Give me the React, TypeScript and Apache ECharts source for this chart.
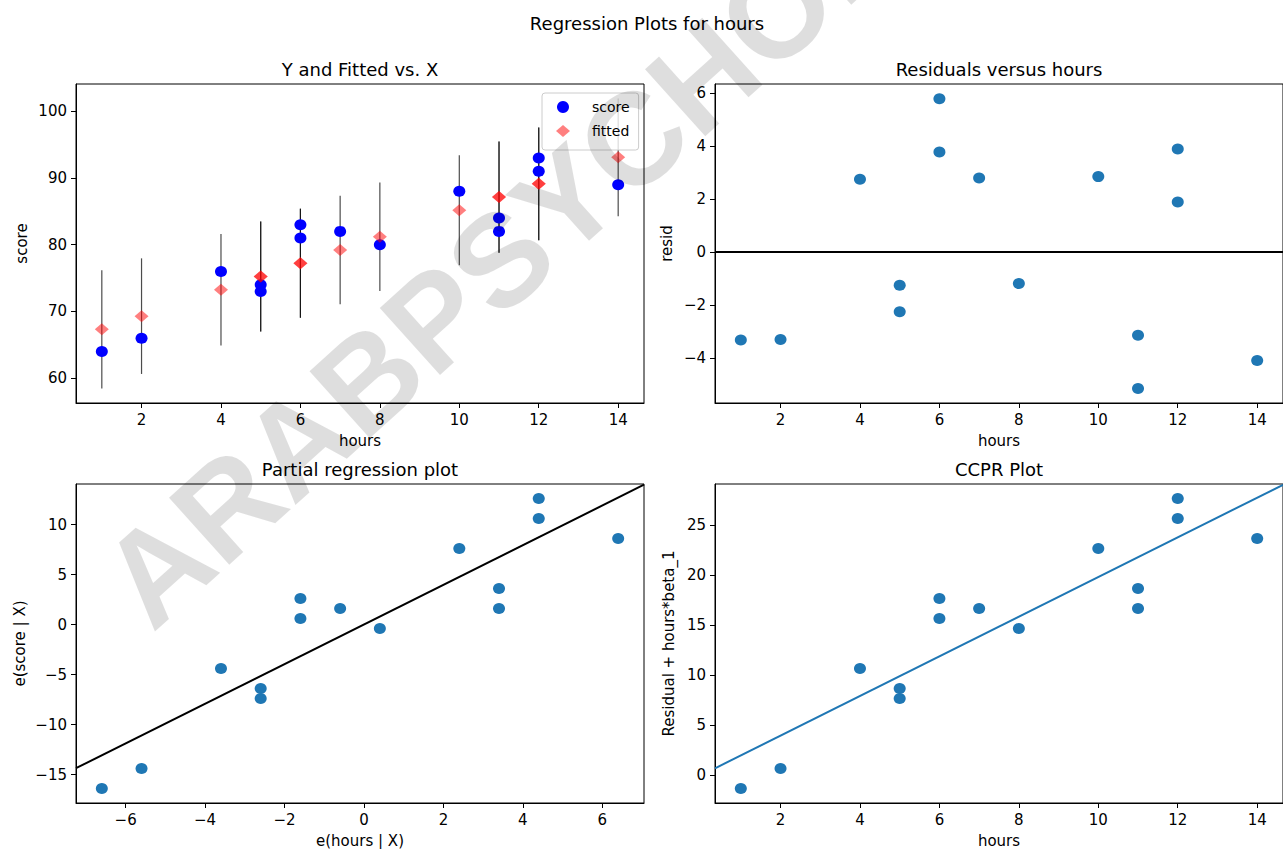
import React, { useEffect, useRef } from "react";
import * as echarts from "echarts";

// ---------------- data ----------------
const hours = [1, 2, 4, 5, 5, 6, 6, 7, 8, 10, 11, 11, 12, 12, 14];
const score = [64, 66, 76, 73, 74, 81, 83, 82, 80, 88, 84, 82, 91, 93, 89];
const fitted = [67.32, 69.3, 73.26, 75.25, 75.25, 77.23, 77.23, 79.21, 81.19, 85.16, 87.14, 87.14, 89.12, 89.12, 93.09];
const predLower = [58.46, 60.64, 64.91, 67.0, 67.0, 69.06, 69.06, 71.08, 73.06, 76.93, 78.81, 78.81, 80.66, 80.66, 84.27];
const predUpper = [76.18, 77.96, 81.61, 83.49, 83.49, 85.4, 85.4, 87.34, 89.32, 93.39, 95.47, 95.47, 97.58, 97.58, 101.91];
const resid = [-3.32, -3.3, 2.74, -2.25, -1.25, 3.77, 5.77, 2.79, -1.19, 2.84, -3.14, -5.14, 1.88, 3.88, -4.09];
const partialX = [-6.6, -5.6, -3.6, -2.6, -2.6, -1.6, -1.6, -0.6, 0.4, 2.4, 3.4, 3.4, 4.4, 4.4, 6.4];
const partialY = [-16.4, -14.4, -4.4, -7.4, -6.4, 0.6, 2.6, 1.6, -0.4, 7.6, 3.6, 1.6, 10.6, 12.6, 8.6];
const ccprY = [-1.33, 0.67, 10.67, 7.67, 8.67, 15.67, 17.67, 16.67, 14.67, 22.67, 18.67, 16.67, 25.67, 27.67, 23.67];

// fitted reference lines (end points at the axis limits)
const partialLineX = [-7.25, 7.05];
const partialLineY = [-14.37, 13.98];
const ccprLineX = [0.35, 14.65];
const ccprLineY = [0.69, 29.04];
const residLineX = [0.35, 14.65];
const residLineY = [0, 0];

// axis ranges
const hoursRange = [0.35, 14.65];
const fitRange = [56.29, 104.08];
const residRange = [-5.69, 6.33];
const partialXRange = [-7.25, 7.05];
const partialYRange = [-17.85, 14.05];
const ccprRange = [-2.78, 29.12];

// tick labels
const hoursTicks = [2, 4, 6, 8, 10, 12, 14];
const fitTicks = [60, 70, 80, 90, 100];
const residTicks = [-4, -2, 0, 2, 4, 6];
const partialXTicks = [-6, -4, -2, 0, 2, 4, 6];
const partialYTicks = [-15, -10, -5, 0, 5, 10];
const ccprTicks = [0, 5, 10, 15, 20, 25];

const FONT = "'DejaVu Sans', 'Noto Sans', sans-serif";
const BLUE = "#1f77b4";
const DOT = [12, 11];

const fmt = (v: number) => (v < 0 ? "\u2212" + Math.abs(v) : String(v));

function mkAxis(gridIndex: number, range: number[], ticks: number[], name: string, nameGap: number) {
  return {
    type: "value",
    gridIndex,
    min: range[0],
    max: range[1],
    name,
    nameLocation: "middle",
    nameGap,
    nameTextStyle: { fontFamily: FONT, fontSize: 15, color: "#000" },
    axisLine: { show: true, onZero: false, lineStyle: { color: "#000", width: 1 } },
    axisTick: { show: true, length: 5, customValues: ticks, lineStyle: { color: "#000", width: 1 } },
    axisLabel: { customValues: ticks, formatter: fmt, fontFamily: FONT, fontSize: 15, color: "#000", margin: 9 },
    splitLine: { show: false },
  };
}

const zip = (a: number[], b: number[]) => a.map((v, i) => [v, b[i]]);

function titleText(x: number, y: number, text: string, size: number) {
  return {
    type: "text",
    x,
    y,
    silent: true,
    style: { text, fontFamily: FONT, fontSize: size, fill: "#000", textAlign: "center", textVerticalAlign: "middle" },
  };
}

export default function App() {
  const ref = useRef<HTMLDivElement>(null);
  useEffect(() => {
    if (!ref.current) return;
    const chart = echarts.init(ref.current, null, { renderer: "svg" });
    const gridBase = { show: true, borderColor: "#000", borderWidth: 1, backgroundColor: "transparent" };
    const option: any = {
      animation: false,
      backgroundColor: "#fff",
      grid: [
        { ...gridBase, left: 76, top: 84, width: 568, height: 319 },
        { ...gridBase, left: 715, top: 84, width: 569, height: 319 },
        { ...gridBase, left: 76, top: 484, width: 568, height: 319 },
        { ...gridBase, left: 715, top: 484, width: 569, height: 319 },
      ],
      xAxis: [
        mkAxis(0, hoursRange, hoursTicks, "hours", 30),
        mkAxis(1, hoursRange, hoursTicks, "hours", 30),
        mkAxis(2, partialXRange, partialXTicks, "e(hours | X)", 30),
        mkAxis(3, hoursRange, hoursTicks, "hours", 30),
      ],
      yAxis: [
        mkAxis(0, fitRange, fitTicks, "score", 47),
        mkAxis(1, residRange, residTicks, "resid", 41),
        mkAxis(2, partialYRange, partialYTicks, "e(score | X)", 49),
        mkAxis(3, ccprRange, ccprTicks, "Residual + hours*beta_1", 39),
      ],
      legend: {
        data: ["score", "fitted"],
        orient: "vertical",
        left: 542,
        top: 93,
        itemWidth: 14,
        itemHeight: 12,
        itemGap: 10,
        padding: [7, 9, 12, 14],
        backgroundColor: "rgba(255,255,255,0.8)",
        borderColor: "#cccccc",
        borderWidth: 1,
        borderRadius: 3,
        selectedMode: false,
        textStyle: { fontFamily: FONT, fontSize: 14, color: "#000", padding: [0, 0, 0, 17] },
      },
      series: [
        {
          type: "custom",
          name: "pred",
          xAxisIndex: 0,
          yAxisIndex: 0,
          z: 1,
          encode: { x: 0, y: [1, 2] },
          data: hours.map((h, i) => [h, predLower[i], predUpper[i]]),
          renderItem: (params: any, api: any) => {
            const x = api.value(0);
            const p1 = api.coord([x, api.value(1)]);
            const p2 = api.coord([x, api.value(2)]);
            return {
              type: "line",
              shape: { x1: p1[0], y1: p1[1], x2: p2[0], y2: p2[1] },
              style: { stroke: "rgba(0,0,0,0.7)", lineWidth: 1.2 },
            };
          },
        },
        {
          type: "scatter",
          name: "score",
          xAxisIndex: 0,
          yAxisIndex: 0,
          symbol: "circle",
          symbolSize: DOT,
          itemStyle: { color: "#0000ff", opacity: 1 },
          data: zip(hours, score),
        },
        {
          type: "scatter",
          name: "fitted",
          xAxisIndex: 0,
          yAxisIndex: 0,
          symbol: "diamond",
          symbolSize: [14, 12],
          itemStyle: { color: "rgba(255,0,0,0.5)", opacity: 1 },
          data: zip(hours, fitted),
        },
        {
          type: "scatter",
          name: "resid",
          xAxisIndex: 1,
          yAxisIndex: 1,
          symbolSize: DOT,
          itemStyle: { color: BLUE, opacity: 1 },
          data: zip(hours, resid),
        },
        {
          type: "line",
          name: "zero",
          xAxisIndex: 1,
          yAxisIndex: 1,
          symbol: "none",
          lineStyle: { color: "#000", width: 2 },
          data: zip(residLineX, residLineY),
        },
        {
          type: "scatter",
          name: "partial",
          xAxisIndex: 2,
          yAxisIndex: 2,
          symbolSize: DOT,
          itemStyle: { color: BLUE, opacity: 1 },
          data: zip(partialX, partialY),
        },
        {
          type: "line",
          name: "partialFit",
          xAxisIndex: 2,
          yAxisIndex: 2,
          symbol: "none",
          lineStyle: { color: "#000", width: 2 },
          data: zip(partialLineX, partialLineY),
        },
        {
          type: "scatter",
          name: "ccpr",
          xAxisIndex: 3,
          yAxisIndex: 3,
          symbolSize: DOT,
          itemStyle: { color: BLUE, opacity: 1 },
          data: zip(hours, ccprY),
        },
        {
          type: "line",
          name: "ccprFit",
          xAxisIndex: 3,
          yAxisIndex: 3,
          symbol: "none",
          lineStyle: { color: BLUE, width: 2 },
          data: zip(ccprLineX, ccprLineY),
        },
      ],
      graphic: [
        titleText(647, 23, "Regression Plots for hours", 18),
        titleText(360, 69, "Y and Fitted vs. X", 18),
        titleText(999, 69, "Residuals versus hours", 18),
        titleText(360, 469, "Partial regression plot", 18),
        titleText(999, 469, "CCPR Plot", 18),
        {
          type: "text",
          x: 122,
          y: 600,
          rotation: (42 * Math.PI) / 180,
          silent: true,
          z: 100,
          style: {
            text: "ARABPSYCHOLOGY",
            fontFamily: "'Liberation Sans', Arial, sans-serif",
            fontWeight: "bold",
            fontSize: 131,
            fill: "rgba(0,0,0,0.13)",
            textAlign: "left",
            textVerticalAlign: "middle",
          },
        },
      ],
    };
    chart.setOption(option);
    return () => chart.dispose();
  }, []);
  return (
    <div
      ref={ref}
      style={{ position: "fixed", left: 0, top: 0, width: 1283, height: 849, background: "#fff" }}
    />
  );
}
